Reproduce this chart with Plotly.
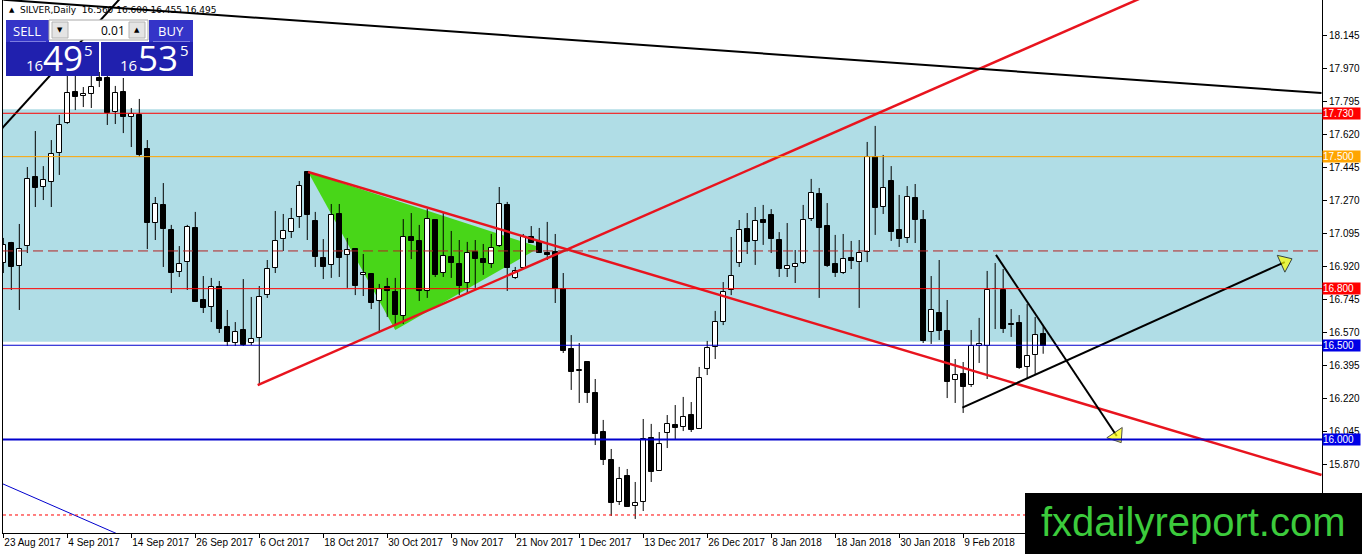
import plotly.graph_objects as go

# ---------------- data ----------------
tick_labels = ["23 Aug 2017", "4 Sep 2017", "14 Sep 2017", "26 Sep 2017", "6 Oct 2017",
               "18 Oct 2017", "30 Oct 2017", "9 Nov 2017", "21 Nov 2017", "1 Dec 2017",
               "13 Dec 2017", "26 Dec 2017", "8 Jan 2018", "18 Jan 2018", "30 Jan 2018",
               "9 Feb 2018"]
tick_bars = [0, 8, 16, 24, 32, 40, 48, 56, 64, 72, 80, 88, 96, 104, 112, 120]

price_ticks = ["15.695", "15.870", "16.045", "16.220", "16.395", "16.570", "16.745", "16.920",
               "17.095", "17.270", "17.445", "17.620", "17.795", "17.970", "18.145"]

opens = [16.936, 17.042, 16.920, 17.026, 17.392, 17.339, 17.366, 17.519, 17.678, 17.843,
         17.822, 17.832, 17.917, 17.917, 17.737, 17.843, 17.710, 17.721, 17.541, 17.148,
         17.244, 17.111, 16.888, 16.941, 17.122, 16.740, 16.703, 16.809, 16.597, 16.512,
         16.581, 16.512, 16.539, 16.766, 16.910, 17.063, 17.100, 17.180, 17.419, 17.159,
         16.963, 16.926, 17.196, 16.979, 17.010, 16.873, 16.878, 16.735, 16.809, 16.782,
         16.655, 17.074, 17.053, 16.788, 17.164, 16.883, 16.968, 16.931, 16.830, 16.995,
         16.957, 16.931, 17.026, 17.244, 16.857, 16.910, 17.074, 17.048, 16.989, 16.995,
         16.798, 16.480, 16.364, 16.411, 16.247, 16.040, 15.892, 15.669, 15.807, 15.648,
         15.669, 16.008, 15.833, 16.035, 16.077, 16.067, 16.130, 16.056, 16.374, 16.491,
         16.623, 16.793, 16.936, 17.116, 17.053, 17.164, 17.191, 17.058, 16.904, 16.915,
         16.936, 17.169, 17.302, 17.132, 16.931, 16.883, 16.963, 16.941, 16.995, 17.498,
         17.233, 17.371, 17.111, 17.069, 17.281, 17.164, 16.570, 16.671, 16.576, 16.316,
         16.348, 16.289, 16.496, 16.496, 16.796, 16.793, 16.613, 16.618, 16.385, 16.448,
         16.560]
highs = [17.069, 17.048, 17.143, 17.445, 17.636, 17.450, 17.588, 17.721, 17.949, 17.959,
         17.869, 17.949, 17.949, 17.959, 17.875, 17.917, 17.758, 17.806, 17.588, 17.286,
         17.360, 17.138, 17.026, 17.138, 17.207, 16.867, 16.857, 16.841, 16.687, 16.623,
         16.851, 16.756, 16.814, 16.952, 17.212, 17.196, 17.228, 17.371, 17.424, 17.207,
         17.063, 17.249, 17.249, 17.069, 17.010, 16.984, 16.878, 16.825, 16.857, 16.857,
         17.169, 17.201, 17.138, 17.222, 17.169, 17.201, 17.106, 17.058, 17.048, 17.058,
         17.037, 17.090, 17.339, 17.260, 16.915, 17.090, 17.132, 17.122, 17.154, 17.090,
         16.883, 16.554, 16.512, 16.411, 16.321, 16.104, 15.950, 15.855, 15.844, 15.775,
         16.109, 16.083, 16.040, 16.130, 16.183, 16.226, 16.199, 16.385, 16.523, 16.682,
         16.835, 17.074, 17.164, 17.201, 17.233, 17.244, 17.222, 17.100, 17.148, 17.005,
         17.244, 17.382, 17.334, 17.254, 17.085, 17.090, 17.053, 17.058, 17.578, 17.663,
         17.509, 17.450, 17.297, 17.344, 17.355, 17.217, 16.867, 16.952, 16.740, 16.427,
         16.411, 16.581, 16.645, 16.894, 16.936, 16.904, 16.692, 16.660, 16.719, 16.650,
         16.600]
lows = [16.883, 16.793, 16.687, 16.989, 17.233, 17.270, 17.233, 17.403, 17.673, 17.747,
        17.763, 17.758, 17.869, 17.668, 17.673, 17.625, 17.551, 17.498, 17.010, 17.058,
        16.915, 16.777, 16.862, 16.793, 16.729, 16.671, 16.623, 16.565, 16.496, 16.496,
        16.496, 16.501, 16.289, 16.751, 16.883, 17.000, 17.069, 17.122, 17.058, 16.915,
        16.851, 16.857, 16.862, 16.804, 16.766, 16.761, 16.692, 16.565, 16.650, 16.602,
        16.613, 16.957, 16.735, 16.751, 16.862, 16.862, 16.857, 16.766, 16.777, 16.804,
        16.873, 16.910, 17.021, 16.788, 16.851, 16.904, 17.042, 16.989, 16.952, 16.724,
        16.459, 16.263, 16.194, 16.194, 15.971, 15.865, 15.595, 15.653, 15.642, 15.579,
        15.621, 15.775, 15.833, 15.955, 15.998, 16.045, 16.040, 16.056, 16.342, 16.427,
        16.607, 16.766, 16.915, 16.984, 16.926, 17.032, 16.989, 16.862, 16.862, 16.830,
        16.931, 17.159, 16.751, 16.915, 16.862, 16.878, 16.904, 16.698, 16.941, 17.085,
        17.196, 17.053, 17.021, 17.042, 17.042, 16.512, 16.507, 16.528, 16.220, 16.194,
        16.141, 16.279, 16.406, 16.321, 16.586, 16.565, 16.544, 16.374, 16.326, 16.342,
        16.455]
closes = [17.032, 16.915, 17.010, 17.382, 17.334, 17.376, 17.514, 17.668, 17.838, 17.816,
          17.832, 17.869, 17.901, 17.731, 17.838, 17.710, 17.726, 17.509, 17.148, 17.249,
          17.116, 16.883, 16.931, 17.127, 16.729, 16.698, 16.809, 16.586, 16.517, 16.570,
          16.501, 16.533, 16.756, 16.904, 17.053, 17.106, 17.169, 17.344, 17.191, 16.968,
          16.915, 17.191, 16.963, 17.005, 16.814, 16.883, 16.724, 16.798, 16.788, 16.660,
          17.074, 17.053, 16.788, 17.169, 16.873, 16.973, 16.936, 16.814, 16.989, 16.957,
          16.936, 17.016, 17.249, 16.910, 16.894, 17.074, 17.042, 16.989, 16.979, 16.798,
          16.470, 16.358, 16.369, 16.247, 16.029, 15.892, 15.664, 15.791, 15.642, 15.664,
          16.003, 15.828, 15.976, 16.083, 16.061, 16.120, 16.051, 16.326, 16.485, 16.623,
          16.782, 16.867, 17.111, 17.048, 17.159, 17.148, 17.063, 16.904, 16.920, 16.931,
          17.164, 17.307, 17.122, 16.920, 16.883, 16.957, 16.947, 16.989, 17.498, 17.228,
          17.334, 17.100, 17.063, 17.286, 17.164, 16.523, 16.687, 16.576, 16.305, 16.342,
          16.279, 16.496, 16.507, 16.793, 16.800, 16.586, 16.607, 16.379, 16.443, 16.554,
          16.495]

# analyst drawings (bar index, price)
zone_low, zone_high = 16.519, 17.751
level_prices = [17.730, 17.500, 16.800, 16.500, 16.000]
level_colors = ["#FF0000", "#FFA500", "#FF0000", "#0000CD", "#0000CD"]
level_widths = [1, 1, 1, 1, 2]
dashed_level = 17.000
dotted_level = 15.600
triangle_x = [38.1, 49.0, 67.1]
triangle_y = [17.419, 16.581, 17.019]
red_down_x, red_down_y = [38.1, 164.8], [17.419, 15.812]
red_up_x, red_up_y = [31.8, 143.0], [16.289, 18.355]
black_top_x, black_top_y = [0.0, 164.8], [18.332, 17.837]
black_left_x, black_left_y = [-0.5, 15.0], [17.634, 18.357]
blue_left_x, blue_left_y = [-0.5, 15.0], [15.773, 15.486]
arrow_up_x, arrow_up_y = [119.9, 160.2], [16.169, 16.941]
arrow_down_x, arrow_down_y = [124.1, 139.2], [16.979, 16.019]

# ---------------- figure ----------------
idx = list(range(len(opens)))
W, H = 1362, 554
L, R, T, B = 3, 40, 0, 21
PW, PH = W - L - R, H - T - B


def px(x):
    return (x - L) / PW


def py(y):
    return (H - B - y) / PH


fig = go.Figure()

# wicks
wx, wy = [], []
for i, (o, h, l, c) in enumerate(zip(opens, highs, lows, closes)):
    top, bot = max(o, c), min(o, c)
    wx += [i, i, None, i, i, None]
    wy += [h, top, None, bot, l, None]
fig.add_trace(go.Scatter(x=wx, y=wy, mode="lines", line=dict(color="black", width=1),
                         hoverinfo="skip", showlegend=False))

# bodies
fig.add_trace(go.Bar(
    x=idx,
    y=[max(abs(c - o), 0.003) for o, c in zip(opens, closes)],
    base=[min(o, c) for o, c in zip(opens, closes)],
    width=0.62,
    marker=dict(color=["white" if c >= o else "black" for o, c in zip(opens, closes)],
                line=dict(color="black", width=1)),
    showlegend=False, hoverinfo="skip"))


def line_trace(xs, ys, color, width):
    fig.add_trace(go.Scatter(x=xs, y=ys, mode="lines", line=dict(color=color, width=width),
                             hoverinfo="skip", showlegend=False))


line_trace(red_down_x, red_down_y, "#E8141E", 2.5)
line_trace(red_up_x, red_up_y, "#E8141E", 2.5)
line_trace(black_top_x, black_top_y, "black", 2)
line_trace(black_left_x, black_left_y, "black", 2)
line_trace(blue_left_x, blue_left_y, "#0000CD", 1)

for ax_, ay_ in [(arrow_up_x, arrow_up_y), (arrow_down_x, arrow_down_y)]:
    fig.add_trace(go.Scatter(
        x=ax_, y=ay_, mode="lines+markers", line=dict(color="black", width=2),
        marker=dict(symbol="triangle-up", angleref="previous", size=[0, 16],
                    color="#FFFF00", line=dict(color="black", width=[0, 1])),
        hoverinfo="skip", showlegend=False))

shapes = []
# support/resistance zone
shapes.append(dict(type="rect", xref="paper", yref="y", x0=0, x1=1, y0=zone_low, y1=zone_high,
                   fillcolor="#B0DDE6", line=dict(width=0), layer="below"))
# green triangle
path = "M {},{} L {},{} L {},{} Z".format(triangle_x[0], triangle_y[0], triangle_x[1], triangle_y[1],
                                           triangle_x[2], triangle_y[2])
shapes.append(dict(type="path", xref="x", yref="y", path=path, fillcolor="#48D618",
                   line=dict(width=0), layer="below"))
# horizontal levels
for p, col, w in zip(level_prices, level_colors, level_widths):
    shapes.append(dict(type="line", xref="paper", yref="y", x0=0, x1=1, y0=p, y1=p,
                       line=dict(color=col, width=w), layer="above"))
shapes.append(dict(type="line", xref="paper", yref="y", x0=0, x1=1, y0=dashed_level, y1=dashed_level,
                   line=dict(color="#B22222", width=1, dash="10px,5px"), layer="above"))
shapes.append(dict(type="line", xref="paper", yref="y", x0=0, x1=1, y0=dotted_level, y1=dotted_level,
                   line=dict(color="#FF0000", width=1, dash="3px,3px"), layer="above"))

# trading panel (UI chrome)
def prect(x0, y0, x1, y1, fill, line_col=None):
    shapes.append(dict(type="rect", xref="paper", yref="paper", x0=px(x0), x1=px(x1), y0=py(y1), y1=py(y0),
                       fillcolor=fill, line=dict(width=1 if line_col else 0, color=line_col or fill),
                       layer="above"))


prect(6, 20, 49, 42, "#3434C8")
prect(149, 20, 193, 42, "#3434C8")
prect(49, 20, 148, 40, "#FFFFFF", "#A8A8A8")
prect(52, 22, 68, 38, "#E4E4E4", "#B4B4B4")
prect(129, 22, 145, 38, "#E4E4E4", "#B4B4B4")
prect(6, 42, 99, 76, "#2020AE")
prect(101, 42, 193, 76, "#2020AE")
prect(10, 41, 46, 42, "#7C7CE0")
prect(153, 41, 190, 42, "#7C7CE0")
# watermark box
prect(1025, 493, 1363, 555, "#000000")

annotations = []


def ptext(x, y, text, size, color, xanchor="center", family="Open Sans"):
    annotations.append(dict(xref="paper", yref="paper", x=px(x), y=py(y), text=text, showarrow=False,
                            xanchor=xanchor, yanchor="middle",
                            font=dict(size=size, color=color, family=family)))


ptext(7, 10, "▲", 7, "black", "left", "DejaVu Sans")
ptext(18, 10, "SILVER,Daily  16.560 16.600 16.455 16.495", 9, "black", "left", "DejaVu Sans")
ptext(27, 31, "SELL", 13, "white")
ptext(171, 31, "BUY", 13, "white")
ptext(60, 30, "▼", 7, "black", "center", "DejaVu Sans")
ptext(137, 30, "▲", 7, "black", "center", "DejaVu Sans")
ptext(127, 30, "0.01", 12, "black", "right")
ptext(45, 65, "16", 15, "white", "right")
ptext(63, 58, "49", 35, "white")
ptext(88, 50, "5", 15, "white")
ptext(139, 65, "16", 15, "white", "right")
ptext(158, 58, "53", 35, "white")
ptext(184, 50, "5", 15, "white")
ptext(1193, 522, "fxdailyreport.com", 40, "#3CCB3C", "center", "Liberation Sans")

# price labels on the right axis
for p, col in zip(level_prices, ["#FF0000", "#FFA500", "#FF0000", "#0000E6", "#0000E6"]):
    annotations.append(dict(xref="paper", yref="y", x=1, y=p, xanchor="left", yanchor="middle",
                            text="{:.3f}".format(p), showarrow=False, bgcolor=col, borderpad=0,
                            width=37, height=11, align="left", xshift=0,
                            font=dict(size=10, color="white", family="Liberation Sans")))

fig.update_layout(
    width=W, height=H,
    margin=dict(l=L, r=R, t=T, b=B, pad=0),
    paper_bgcolor="white", plot_bgcolor="white",
    shapes=shapes, annotations=annotations,
    bargap=0, showlegend=False,
    xaxis=dict(range=[-0.04, 164.86], tickvals=tick_bars, ticktext=tick_labels, tickangle=0,
               ticks="outside", ticklen=4, tickcolor="black", showline=True, linecolor="black",
               linewidth=1, showgrid=False, zeroline=False, ticklabelposition="outside right",
               tickfont=dict(family="Liberation Sans", size=10, color="black"), automargin=False,
               fixedrange=True),
    yaxis=dict(side="right", range=[15.5045, 18.3306], tickvals=[float(t) for t in price_ticks],
               ticktext=price_ticks, ticks="outside", ticklen=4, tickcolor="black", showline=True,
               linecolor="black", linewidth=1, mirror=True, showgrid=False, zeroline=False,
               tickfont=dict(family="Liberation Sans", size=10, color="black"), automargin=False,
               fixedrange=True),
)

fig.write_html("out.html", config={"displayModeBar": False},
               post_script="document.body.style.margin='0';document.body.style.overflow='hidden';")
